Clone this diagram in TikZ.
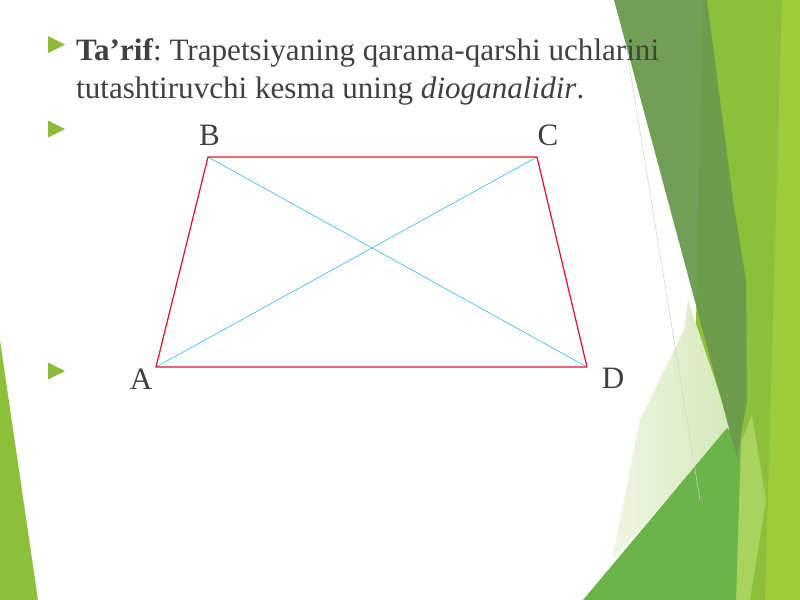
\documentclass[tikz,border=0pt]{standalone}
\usepackage{fontspec}
\setmainfont{Liberation Serif}
\usetikzlibrary{positioning}
\definecolor{textgrey}{HTML}{404040}
\definecolor{leafgreen}{HTML}{8DC03A}
\definecolor{limegreen}{HTML}{9CCB3E}
\definecolor{lightlime}{HTML}{A9D35F}
\definecolor{olivegreen}{HTML}{6A9A4C}
\definecolor{midgreen}{HTML}{6BB548}
\definecolor{palegreen}{HTML}{D6E8BA}
\definecolor{paleleft}{HTML}{EEF5E2}
\definecolor{bulletgreen}{HTML}{8DBA38}
\definecolor{trapred}{HTML}{E0102E}
\definecolor{diagcyan}{HTML}{45BFE0}
\tikzset{
  body/.style={anchor=base west,text=textgrey,font=\fontsize{28}{34}\selectfont,inner sep=0pt},
  vlabel/.style={text=textgrey,font=\fontsize{28}{34}\selectfont,inner sep=0pt},
  side/.style={draw=trapred,line width=1.1pt},
  diag/.style={draw=diagcyan,line width=0.6pt}
}
\newcommand{\bullettri}[1]{\fill[bulletgreen] (48,#1-8.5) -- (65,#1) -- (48,#1+8.5) -- cycle;}
\frenchspacing
\begin{document}
\begin{tikzpicture}
      [x=0.9pt,y=-0.9pt,line cap=round,line join=round]%pixel layer

\useasboundingbox (0,0) rectangle (800,600);
\fill[white] (0,0) rectangle (800,600);

%background leaves on the right
\fill[leafgreen] (703,0) -- (800,0) -- (800,600) -- (690,600) -- cycle;
\fill[limegreen] (782,0) -- (800,0) -- (800,600) -- (765,600) -- cycle;
\fill[lightlime] (740,445) -- (752,415) -- (766,500) -- (750,600) -- (736,600) -- cycle;
\shade[left color=paleleft,right color=palegreen] (688,300) -- (731,428) -- (612,560) -- (640,420) -- (684,330) -- cycle;
\fill[midgreen] (727,428) -- (741,442) -- (736,600) -- (583,600) -- cycle;
\fill[olivegreen,opacity=0.95] (614,0) -- (707,0) -- (733,200) -- (746,280) -- (747,400) -- (737,458) -- cycle;
\draw[gray!35,line width=0.5pt] (626,45) -- (700,500);
%leaf on the left
\fill[leafgreen] (0,340) -- (38,600) -- (0,600) -- cycle;

%bullets
\bullettri{44.5}
\bullettri{129}
\bullettri{371}

%definition text
\node[body] (line1) at (76,60) {\textbf{Ta’rif}: Trapetsiyaning qarama-qarshi uchlarini};
\node[body] (line2) at (76,98) {tutashtiruvchi kesma uning \textit{dioganalidir}.};

%trapezoid
\coordinate (a) at (156,367);
\coordinate (b) at (208,157);
\coordinate (c) at (537,157);
\coordinate (d) at (587,367);
\node[vlabel] (lA) at (141,379) {A};
\node[vlabel] (lB) at (209.5,135) {B};
\node[vlabel] (lC) at (548,135) {C};
\node[vlabel] (lD) at (613,378) {D};

\draw[diag] (a) -- (c);
\draw[diag] (b) -- (d);
\draw[side] (a) -- (b) -- (c) -- (d) -- cycle;

\end{tikzpicture}
\end{document}
